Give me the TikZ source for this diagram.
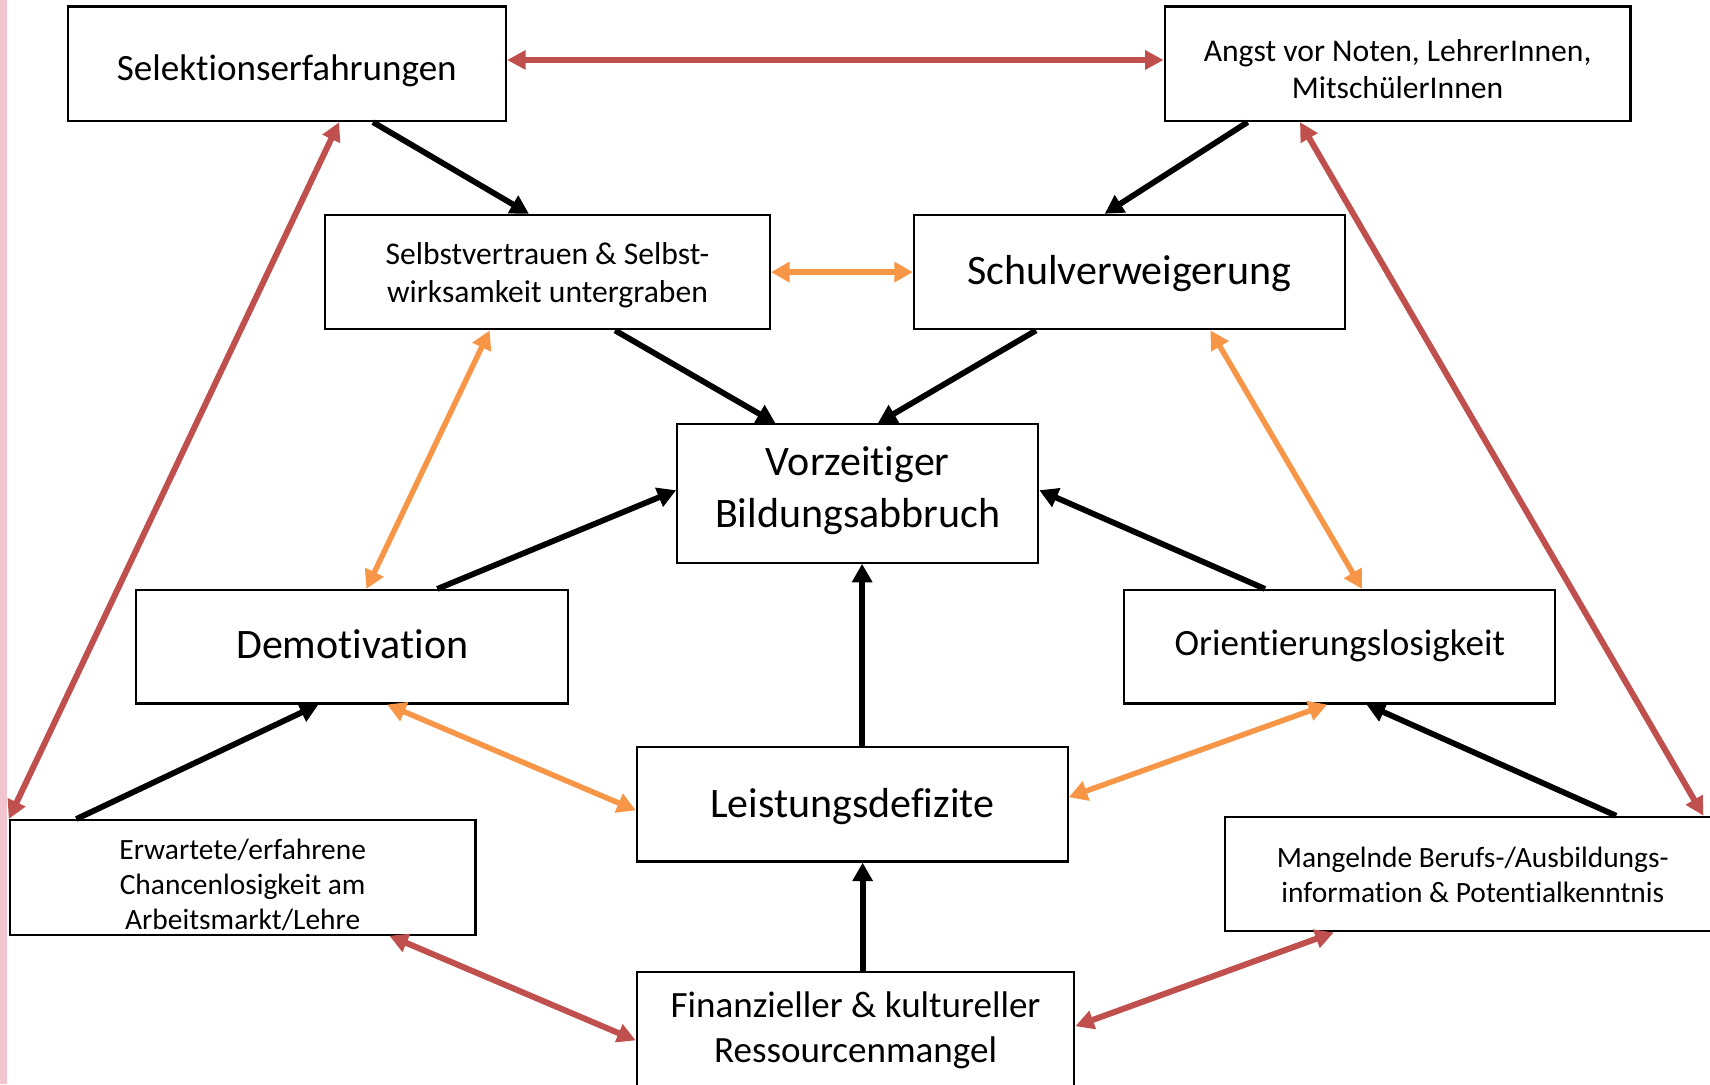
\documentclass[tikz,border=0pt]{standalone}
\usepackage{fontspec}
\setmainfont{Carlito}[Ligatures=NoCommon]
\usetikzlibrary{arrows.meta}
\definecolor{redA}{HTML}{C0504D}
\definecolor{orangeA}{HTML}{F79646}
\definecolor{pinkA}{HTML}{F2C4CE}
\newcommand\fntA{\fontsize{38.5}{47}\selectfont}
\newcommand\fntB{\fontsize{34}{41.5}\selectfont}
\newcommand\fntC{\fontsize{29}{34.5}\selectfont}
\newcommand\fntD{\fontsize{27}{32}\selectfont}
\tikzset{
  box/.style={draw=black, line width=2pt, inner sep=0pt, fill=white},
  txt/.style={inner sep=0pt, align=center},
  blk/.style={draw=black, line width=5.3pt, -{Triangle[length=17pt,width=18pt]}},
  redarr/.style={draw=redA, line width=5.5pt, {Triangle[length=17pt,width=17pt]}-{Triangle[length=17pt,width=17pt]}},
  orarr/.style={draw=orangeA, line width=5pt, {Triangle[length=17pt,width=18pt]}-{Triangle[length=17pt,width=18pt]}}
}
\begin{document}
\begin{tikzpicture}[x=1pt,y=-1pt]
\useasboundingbox (0,0) rectangle (1568,994);
\clip (0,0) rectangle (1568,994);
\fill[white] (0,0) rectangle (1568,994);
\fill[pinkA] (0,0) rectangle (6,994);
% boxes
\node[box, minimum width=402pt, minimum height=105pt] (sel) at (263,58.5) {};
\node[box, minimum width=427pt, minimum height=105pt] (angst) at (1281.5,58.5) {};
\node[box, minimum width=408pt, minimum height=105pt] (selbst) at (502,249.5) {};
\node[box, minimum width=395pt, minimum height=105pt] (schul) at (1035.5,249.5) {};
\node[box, minimum width=331pt, minimum height=127pt] (vorz) at (786.5,452.5) {};
\node[box, minimum width=396pt, minimum height=104pt] (demo) at (323,593) {};
\node[box, minimum width=395pt, minimum height=104pt] (orient) at (1228.5,593) {};
\node[box, minimum width=395pt, minimum height=105pt] (leist) at (781.5,737.5) {};
\node[box, minimum width=427pt, minimum height=105pt] (erw) at (222.5,804.5) {};
\node[box, minimum width=455pt, minimum height=105pt] (mang) at (1350.5,801.5) {};
\node[box, minimum width=401pt, minimum height=105pt] (fin) at (784.5,943.5) {};
% texts
\node[txt, font=\fntB] (selT) at ([yshift=-6pt]sel.center) {Selektionserfahrungen};
\node[txt, font=\fntC] (angstT) at ([yshift=-5pt]angst.center) {Angst vor Noten, LehrerInnen,\\MitschülerInnen};
\node[txt, font=\fntC] (selbstT) at ([yshift=-3pt]selbst.center) {Selbstvertrauen \& Selbst-\\wirksamkeit untergraben};
\node[txt, font=\fntA] (schulT) at ([yshift=-1pt]schul.center) {Schulverweigerung};
\node[txt, font=\fntA] (vorzT) at ([yshift=2.5pt]vorz.center) {Vorzeitiger\\Bildungsabbruch};
\node[txt, font=\fntA] (demoT) at ([yshift=2pt]demo.center) {Demotivation};
\node[txt, font=\fntB] (orientT) at ([yshift=1pt]orient.center) {Orientierungslosigkeit};
\node[txt, font=\fntA] (leistT) at ([yshift=-2pt]leist.center) {Leistungsdefizite};
\node[txt, font=\fntD] (erwT) at ([yshift=-7pt]erw.center) {Erwartete/erfahrene\\Chancenlosigkeit am\\Arbeitsmarkt/Lehre};
\node[txt, font=\fntD] (mangT) at ([yshift=-1pt]mang.center) {Mangelnde Berufs-/Ausbildungs-\\information \& Potentialkenntnis};
\node[txt, font=\fntB] (finT) at ([yshift=-1.5pt]fin.center) {Finanzieller \& kultureller\\Ressourcenmangel};
% black arrows
\draw[blk] ([xshift=281pt]sel.south west) -- ([xshift=188pt]selbst.north west);
\draw[blk] ([xshift=77pt]angst.south west) -- ([xshift=176pt]schul.north west);
\draw[blk] ([xshift=267pt]selbst.south west) -- ([xshift=91pt]vorz.north west);
\draw[blk] ([xshift=113pt]schul.south west) -- ([xshift=185pt]vorz.north west);
\draw[blk] ([xshift=277pt]demo.north west) -- ([yshift=3pt]vorz.west);
\draw[blk] ([xshift=130pt]orient.north west) -- ([yshift=3pt]vorz.east);
\draw[blk] ([xshift=9pt]leist.north) -- ([xshift=4pt]vorz.south);
\draw[blk] ([xshift=62pt]erw.north west) -- ([xshift=168pt]demo.south west);
\draw[blk] ([xshift=360pt]mang.north west) -- ([xshift=223pt]orient.south west);
\draw[blk] ([xshift=208pt]fin.north west) -- ([xshift=208pt]leist.south west);
% red arrows
\draw[redarr] ([yshift=3.5pt]sel.east) -- ([yshift=3.5pt]angst.west);
\draw[redarr] ([xshift=250pt]sel.south west) -- (erw.north west);
\draw[redarr] ([xshift=125pt]angst.south west) -- ([xshift=440pt]mang.north west);
\draw[redarr] ([xshift=349pt]erw.south west) -- ([yshift=-64pt]fin.north west);
\draw[redarr] ([yshift=-51pt]fin.north east) -- ([xshift=101pt]mang.south west);
% orange arrows
\draw[orarr] (selbst.east) -- (schul.west);
\draw[orarr] ([xshift=152pt]selbst.south west) -- ([xshift=212pt]demo.north west);
\draw[orarr] ([xshift=273pt]schul.south west) -- ([xshift=219pt]orient.north west);
\draw[orarr] ([xshift=231pt]demo.south west) -- ([yshift=-59pt]leist.north west);
\draw[orarr] ([xshift=187pt]orient.south west) -- ([yshift=-47pt]leist.north east);
\end{tikzpicture}
\end{document}
